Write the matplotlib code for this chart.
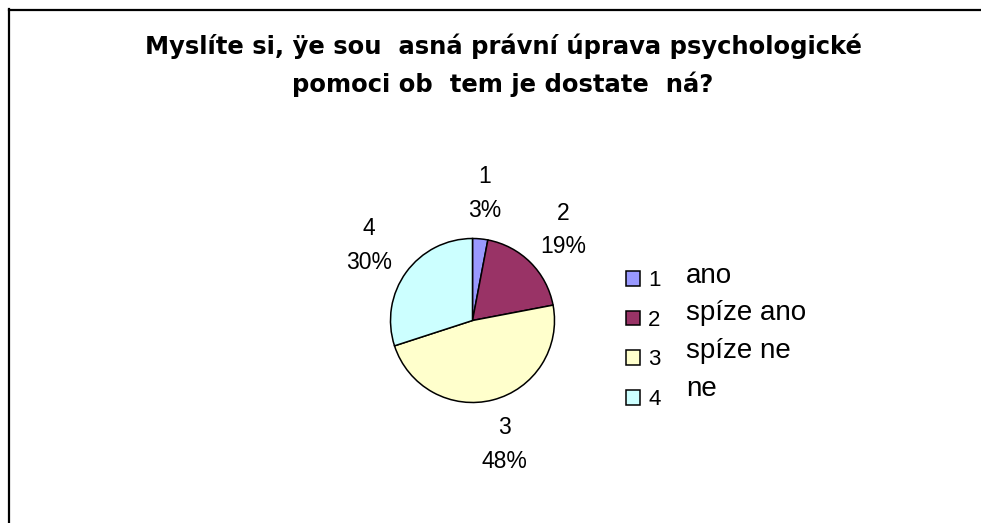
import matplotlib
matplotlib.use("Agg")
import matplotlib.pyplot as plt
from matplotlib.lines import Line2D

plt.rcParams['font.family'] = ['Liberation Sans', 'DejaVu Sans']

title = "Myslíte si, ÿe sou  asná právní úprava psychologické\npomoci ob  tem je dostate  ná?"
categories = ["1", "2", "3", "4"]
descriptions = ["ano", "spíze ano", "spíze ne", "ne"]
percents = [3, 19, 48, 30]
colors = ["#9999FF", "#993366", "#FFFFCC", "#CCFFFF"]

W, H = 981, 523
fig = plt.figure(figsize=(W / 100, H / 100), dpi=100)

# frame border (left and top only visible)
fig.add_artist(Line2D([8.5 / W, 8.5 / W], [0, 1 - 9 / H], color="black", lw=1.6))
fig.add_artist(Line2D([8.5 / W, 1], [1 - 9.5 / H, 1 - 9.5 / H], color="black", lw=1.6))

fig.text(503 / W, 1 - 65 / H, title, ha="center", va="center",
         fontsize=17.5, fontweight="bold", linespacing=1.62,
         family=["DejaVu Sans"])

cx, cy, r = 472.5, 320.5, 82
lim = 1.1
side = 2 * r * lim
ax = fig.add_axes([(cx - r * lim) / W, (H - cy - r * lim) / H, side / W, side / H])

wedges, texts = ax.pie(
    percents, colors=colors, startangle=90, counterclock=False,
    wedgeprops=dict(edgecolor="black", linewidth=1.1),
    labels=[f"{c}\n{p}%" for c, p in zip(categories, percents)],
    labeldistance=1.56,
    textprops=dict(fontsize=16.5, linespacing=1.6),
)
for t in texts:
    t.set_ha("center")
    t.set_va("center")
ax.set_xlim(-lim, lim)
ax.set_ylim(-lim, lim)
ax.set_aspect("equal")
ax.axis("off")

leg = fig.legend(wedges, categories, loc="upper left",
                 bbox_to_anchor=(615 / W, 1 - 259 / H), frameon=False,
                 fontsize=16, handlelength=0.63, handleheight=0.63,
                 handletextpad=0.36, labelspacing=0.84, borderpad=0)

desc_y = [276, 313, 351, 389]
for d, y in zip(descriptions, desc_y):
    fig.text(686 / W, 1 - y / H, d, ha="left", va="center", fontsize=20)

fig.savefig("out.png", dpi=100, facecolor="white")
